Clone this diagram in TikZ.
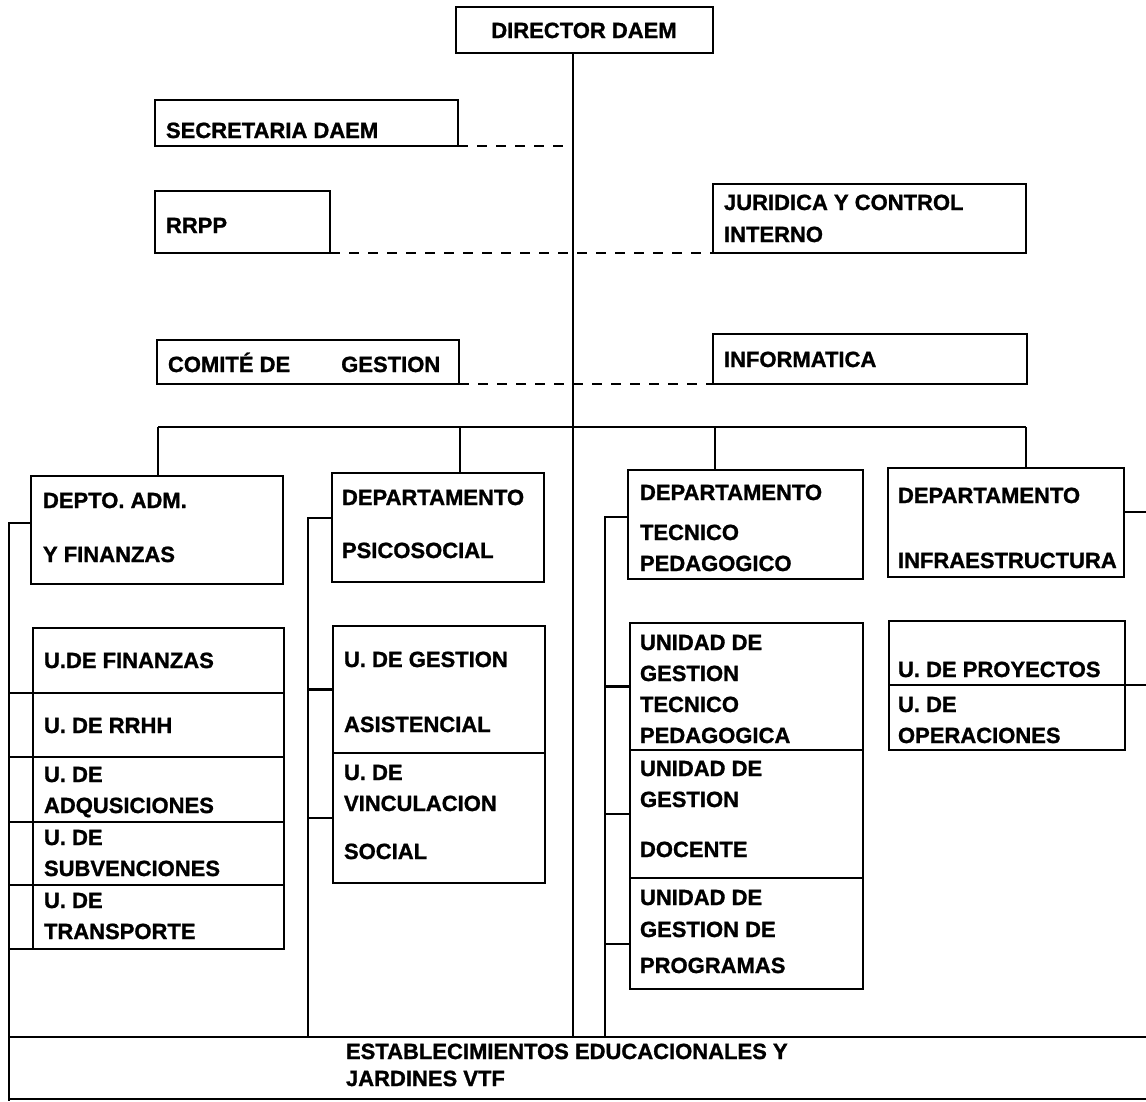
\documentclass[tikz,border=0pt]{standalone}
\usepackage{fontspec}
\setmainfont{Liberation Sans}[FakeBold=1.2]
\newcommand\bx[5]{\node[ubox, anchor=north west, minimum width={(#4-#2)*1pt}, minimum height={(#5-#3)*1pt}] (#1) at (#2,#3) {};}
\newcommand\tx[4]{\node[txt, anchor=base west] (#1) at (#2,#3) {\begin{tabular}[t]{@{}l@{}}#4\end{tabular}};}
\begin{document}
\begin{tikzpicture}[x=1pt,y=-1pt,
  ubox/.style={draw, line width=2.1pt, rectangle, inner sep=0pt, outer sep=0pt},
  txt/.style={inner sep=0pt, outer sep=0pt, font=\fontsize{22}{31}\selectfont\bfseries},
  conn/.style={line width=2.1pt},
  dline/.style={line width=2.1pt, dash pattern=on 10pt off 9pt}]
\useasboundingbox (0,0) rectangle (1146,1101);
\clip (0,0) rectangle (1146,1101);
% top boxes
\bx{dir}{456}{7}{713}{53}
\bx{sec}{155}{100}{458}{146}
\bx{rrpp}{155}{191}{330}{253}
\bx{jur}{713}{184}{1026}{253}
\bx{com}{157}{340}{459}{384}
\bx{inf}{713}{334}{1027}{384}
% departments
\bx{dadm}{31}{476}{283}{584}
\bx{psico}{332}{473}{544}{582}
\bx{tec}{628}{470}{863}{579}
\bx{infra}{888}{468}{1124}{577}
% units
\bx{f1}{33}{628}{284}{693}
\bx{f2}{33}{693}{284}{757}
\bx{f3}{33}{757}{284}{822}
\bx{f4}{33}{822}{284}{885}
\bx{f5}{33}{885}{284}{949}
\bx{p1}{333}{626}{545}{753}
\bx{p2}{333}{753}{545}{883}
\bx{u1}{630}{623}{863}{750}
\bx{u2}{630}{750}{863}{878}
\bx{u3}{630}{878}{863}{989}
\bx{r1}{889}{621}{1125}{685}
\bx{r2}{889}{685}{1125}{750}
\bx{est}{9}{1037}{1170}{1099}
% coordinates
\coordinate (mx) at (573,0);
\coordinate (b1) at (158,427);
\coordinate (b2) at (460,427);
\coordinate (b3) at (715,427);
\coordinate (b4) at (1026,427);
\coordinate (la) at (9,523);
\coordinate (lbot) at (9,1101);
\coordinate (lp) at (308,518);
\coordinate (lt) at (605,517);
\coordinate (t3) at (605,944);
\coordinate (rx) at (1146,512);
% main line and bar
\draw[conn] (dir.south -| mx) -- (est.north -| mx);
\draw[conn] (b1) -- (b4);
\draw[conn] (b1) -- (b1 |- dadm.north);
\draw[conn] (b2) -- (b2 |- psico.north);
\draw[conn] (b3) -- (b3 |- tec.north);
\draw[conn] (b4) -- (b4 |- infra.north);
% dashed staff links
\draw[dline] (sec.south east) -- (sec.south east -| mx);
\draw[dline] (rrpp.south east) -- (jur.south west);
\draw[dline] (com.south east) -- (inf.south west);
% left bracket
\draw[conn] (dadm.west |- la) -- (la) -- (lbot);
\foreach \n in {f1,f2,f3,f4,f5}{\draw[conn] (\n.south west) -- (\n.south west -| la);}
% psico bracket
\draw[conn] (psico.west |- lp) -- (lp) -- (lp |- est.north);
\draw[conn] (p1.west) -- (p1.west -| lp);
\draw[conn] (p2.west) -- (p2.west -| lp);
% tec bracket
\draw[conn] (tec.west |- lt) -- (lt) -- (lt |- est.north);
\draw[conn] (u1.west) -- (u1.west -| lt);
\draw[conn] (u2.west) -- (u2.west -| lt);
\draw[conn] (t3) -- (t3 -| u3.west);
% infra bracket
\draw[conn] (infra.east |- rx) -- (rx);
\draw[conn] (r1.south east) -- (r1.south east -| rx);
% texts
\node[txt, anchor=base] (dirt) at (584,38) {DIRECTOR DAEM};
\tx{sect}{166}{138}{SECRETARIA DAEM}
\tx{rrppt}{166}{233}{RRPP}
\tx{jurt}{724}{210}{JURIDICA Y CONTROL\\[1pt]INTERNO}
\tx{comt}{168}{372}{COMITÉ DE\hspace{51pt}GESTION}
\tx{inft}{724}{367}{INFORMATICA}
\tx{dadmt}{43}{508}{DEPTO. ADM.\\[23pt]Y FINANZAS}
\tx{psicot}{342}{505}{DEPARTAMENTO\\[22pt]PSICOSOCIAL}
\tx{tect}{640}{500}{DEPARTAMENTO\\[9pt]TECNICO\\PEDAGOGICO}
\tx{infrat}{898}{503}{DEPARTAMENTO\\[34pt]INFRAESTRUCTURA}
\tx{f1t}{44}{668}{U.DE FINANZAS}
\tx{f2t}{44}{733}{U. DE RRHH}
\tx{f3t}{44}{782}{U. DE\\ADQUSICIONES}
\tx{f4t}{44}{845}{U. DE\\SUBVENCIONES}
\tx{f5t}{44}{908}{U. DE\\TRANSPORTE}
\tx{p1t}{344}{667}{U. DE GESTION\\[34pt]ASISTENCIAL}
\tx{p2t}{344}{780}{U. DE\\VINCULACION\\[17pt]SOCIAL}
\tx{u1t}{640}{650}{UNIDAD DE\\GESTION\\TECNICO\\PEDAGOGICA}
\tx{u2t}{640}{776}{UNIDAD DE\\GESTION\\[19pt]DOCENTE}
\tx{u3t}{640}{905}{UNIDAD DE\\[1pt]GESTION DE\\[5pt]PROGRAMAS}
\tx{r1t}{898}{677}{U. DE PROYECTOS}
\tx{r2t}{898}{712}{U. DE\\OPERACIONES}
\tx{estt}{346}{1059}{ESTABLECIMIENTOS EDUCACIONALES Y\\[-4pt]JARDINES VTF}
\end{tikzpicture}
\end{document}
